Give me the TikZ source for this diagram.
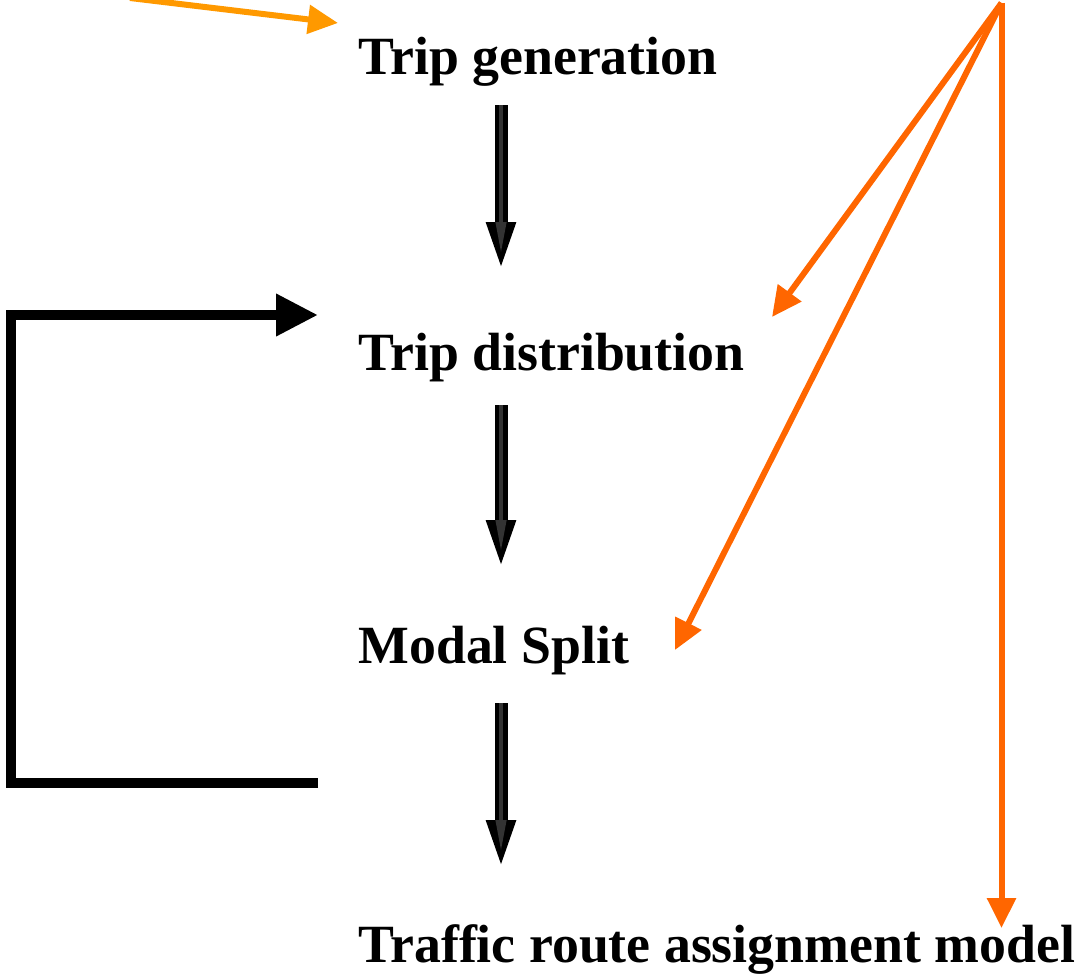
\documentclass[tikz,border=0pt]{standalone}
\usepackage{fontspec}
\setmainfont{Liberation Serif}
\usetikzlibrary{arrows.meta}
\definecolor{feedorange}{RGB}{255,102,0}
\definecolor{inorange}{RGB}{255,153,0}

\begin{document}
\begin{tikzpicture}[x=0.5pt, y=-0.5pt,
  stage/.style={anchor=base west, inner sep=0pt, font=\fontsize{26.9}{30}\selectfont\bfseries},
  flow/.style={line width=6.5pt, -{Triangle[length=25pt, width=13pt]},
    postaction={draw=black!80, line width=2pt, shorten >=9pt, -{Triangle[length=16pt, width=5pt]}}},
  loopback/.style={line width=5pt, -{Triangle[length=21pt, width=20pt]}},
  feed/.style={draw=feedorange, line width=3pt, -{Triangle[length=15pt, width=14pt]}},
]
  \useasboundingbox (0,0) rectangle (1079,974);

  % Model stages
  \node[stage] (gen) at (358,75) {Trip generation};
  \node[stage] (dist) at (358,370) {Trip distribution};
  \node[stage] (modal) at (358,663) {Modal Split};
  \node[stage] (assign) at (358,962) {Traffic route assignment model};

  % Arrow ends
  \coordinate (f1a) at (501,105);
  \coordinate (f1b) at (501,272);
  \coordinate (f2a) at (501,405);
  \coordinate (f2b) at (501,570);
  \coordinate (f3a) at (501,703);
  \coordinate (f3b) at (501,870);
  \coordinate (loopout) at (318,783);
  \coordinate (loopleft) at (10.5,315);
  \coordinate (loopin) at (318,315);
  \coordinate (inputs) at (130,-2);
  \coordinate (genin) at (338,23);
  \coordinate (src) at (1001.5,3);
  \coordinate (distin) at (772,317);
  \coordinate (modalin) at (675,650);
  \coordinate (assignin) at (1001.5,928);

  % Main sequence
  \draw[flow] (f1a) -- (f1b);
  \draw[flow] (f2a) -- (f2b);
  \draw[flow] (f3a) -- (f3b);

  % Feedback loop
  \draw[loopback] (loopout) -| (loopleft) -- (loopin);

  % Inputs
  \draw[feed, draw=inorange] (inputs) -- (genin);
  \draw[feed] (src) -- (distin);
  \draw[feed] (src) -- (modalin);
  \draw[feed] (src) -- (assignin);

\end{tikzpicture}
\end{document}
